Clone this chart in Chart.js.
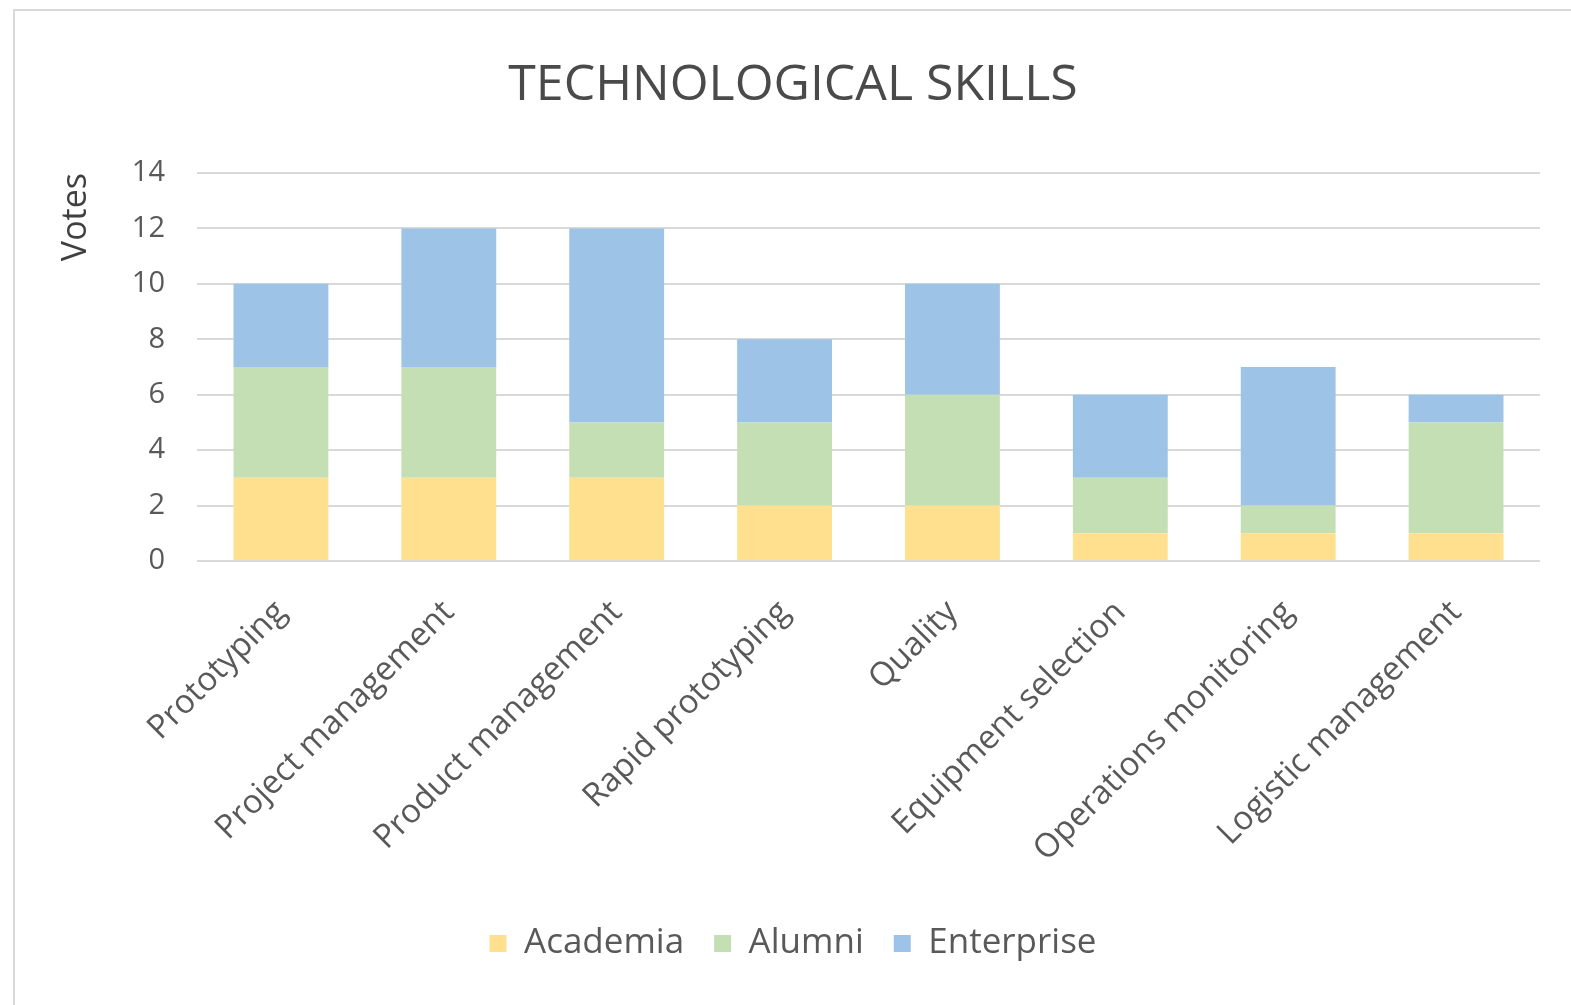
<!DOCTYPE html>
<html>
<head>
<meta charset="utf-8">
<title>Technological skills</title>
<script src="https://cdn.jsdelivr.net/npm/chart.js@4/dist/chart.umd.min.js"></script>
<style>
  html, body { margin: 0; padding: 0; background: #ffffff; }
  #frame {
    position: absolute; left: 13px; top: 9px; width: 1558px; height: 996px;
    border-left: 2px solid #d9d9d9; border-top: 2px solid #d9d9d9;
    box-sizing: border-box; background: #ffffff;
  }
  #wrap { position: absolute; left: 0; top: 0; right: 0; bottom: 0; }
</style>
</head>
<body>
<div id="frame"><div id="wrap"><canvas id="chart"></canvas></div></div>
<script>
// Skill categories and votes per respondent group
const categories = [
  'Prototyping', 'Project management', 'Product management', 'Rapid prototyping',
  'Quality', 'Equipment selection', 'Operations monitoring', 'Logistic management'
];
const academia   = [3, 3, 3, 2, 2, 1, 1, 1];
const alumni     = [4, 4, 2, 3, 4, 2, 1, 4];
const enterprise = [3, 5, 7, 3, 4, 3, 5, 1];
const yTicks = [0, 2, 4, 6, 8, 10, 12, 14];

const FONT = "'Open Sans', 'Noto Sans', sans-serif";
const TEXT = '#595959';

new Chart(document.getElementById('chart'), {
  type: 'bar',
  data: {
    labels: categories,
    datasets: [
      { label: 'Academia',   data: academia,   backgroundColor: '#FFE08E' },
      { label: 'Alumni',     data: alumni,     backgroundColor: '#C5DFB4' },
      { label: 'Enterprise', data: enterprise, backgroundColor: '#9DC3E6' }
    ]
  },
  options: {
    responsive: true,
    maintainAspectRatio: false,
    animation: false,
    datasets: { bar: { barPercentage: 0.565, categoryPercentage: 1.0, borderWidth: 0 } },
    layout: { padding: { left: 0, right: 0, top: 0, bottom: 34 } },
    plugins: {
      tooltip: { enabled: false },
      title: {
        display: true,
        text: 'TECHNOLOGICAL SKILLS',
        color: '#4a4a4a',
        font: { family: FONT, size: 50, weight: 'normal' },
        padding: { top: 45, bottom: 57 }
      },
      legend: {
        position: 'bottom',
        labels: {
          color: TEXT,
          font: { family: FONT, size: 35 },
          boxWidth: 17,
          boxHeight: 17,
          padding: 30
        }
      }
    },
    scales: {
      x: {
        stacked: true,
        grid: { display: false, drawTicks: false },
        border: { display: false },
        ticks: {
          color: TEXT,
          font: { family: FONT, size: 33 },
          minRotation: 45,
          maxRotation: 45,
          padding: 32,
          autoSkip: false
        },
        afterFit: (scale) => { scale.height = 335; }
      },
      y: {
        stacked: true,
        min: 0,
        max: 14,
        afterBuildTicks: (scale) => { scale.ticks = yTicks.map(v => ({ value: v })); },
        grid: { color: '#d9d9d9', lineWidth: 2, drawTicks: false },
        border: { display: false },
        ticks: {
          color: TEXT,
          font: { family: FONT, size: 29 },
          padding: 32
        },
        title: {
          display: true,
          text: 'Votes',
          align: 'end',
          color: '#404040',
          font: { family: FONT, size: 34 },
          padding: { top: 41, bottom: 0 }
        },
        afterFit: (scale) => { scale.width = 182; }
      },
      // empty right-hand margin beside the plot
      yRight: {
        position: 'right',
        display: true,
        grid: { display: false, drawTicks: false },
        border: { display: false },
        ticks: { display: false },
        afterFit: (scale) => { scale.width = 31; }
      }
    }
  }
});
</script>
</body>
</html>
